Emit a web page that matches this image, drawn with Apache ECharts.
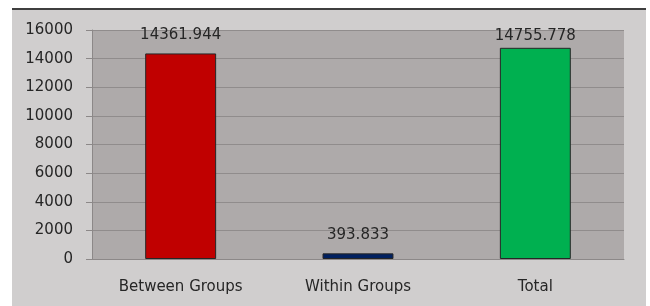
<!DOCTYPE html>
<html>
<head>
<meta charset="utf-8">
<script src="https://cdn.jsdelivr.net/npm/echarts@6/dist/echarts.min.js"></script>
<style>
  body { margin: 0; background: #fff; }
  #panel {
    position: absolute; left: 12px; top: 8px; width: 634px; height: 296px;
    background: #d0cece; border-top: 2px solid #3f3f3f;
  }
  #chart { position: absolute; left: 0; top: 0; width: 650px; height: 306px; }
</style>
</head>
<body>
<div id="panel"></div>
<div id="chart"></div>
<script>
const categories = ['Between Groups', 'Within Groups', 'Total']
const values = [14361.944, 393.833, 14755.778]
const barColors = ['#c00000', '#002060', '#00b050']
const yTicks = [0, 2000, 4000, 6000, 8000, 10000, 12000, 14000, 16000]

const chart = echarts.init(document.getElementById('chart'))
const font = 'DejaVu Sans'
// excel pushes the tallest label down to stay inside the plot
const labelGap = [11, 11, 4]

const option = {
  animation: false,
  grid: {
    left: 92,
    right: 26,
    top: 30,
    bottom: 47,
    show: true,
    backgroundColor: '#aeaaaa',
    borderWidth: 0
  },
  xAxis: {
    type: 'category',
    data: categories,
    axisLine: { lineStyle: { color: '#8c8888', width: 1 } },
    axisTick: { length: 6, lineStyle: { color: '#8c8888' } },
    axisLabel: { margin: 21, color: '#262626', fontFamily: font, fontSize: 15 }
  },
  yAxis: {
    type: 'value',
    min: yTicks[0],
    max: yTicks[yTicks.length - 1],
    interval: 2000,
    axisLine: { show: true, lineStyle: { color: '#8c8888' } },
    axisTick: { show: true, length: 6, lineStyle: { color: '#8c8888' } },
    splitLine: { lineStyle: { color: '#908c8c', width: 1 } },
    axisLabel: {
      margin: 19,
      color: '#262626',
      fontFamily: font,
      fontSize: 15,
      formatter: v => String(v)
    }
  },
  series: [
    {
      type: 'bar',
      barCategoryGap: '60%',
      data: values.map((v, i) => ({
        value: v,
        itemStyle: { color: barColors[i] },
        label: { distance: labelGap[i] }
      })),
      itemStyle: { borderColor: '#262626', borderWidth: 1 },
      label: {
        show: true,
        position: 'top',
        color: '#262626',
        fontFamily: font,
        fontSize: 15,
        formatter: p => values[p.dataIndex].toFixed(3)
      }
    }
  ]
}

chart.setOption(option)
</script>
</body>
</html>
